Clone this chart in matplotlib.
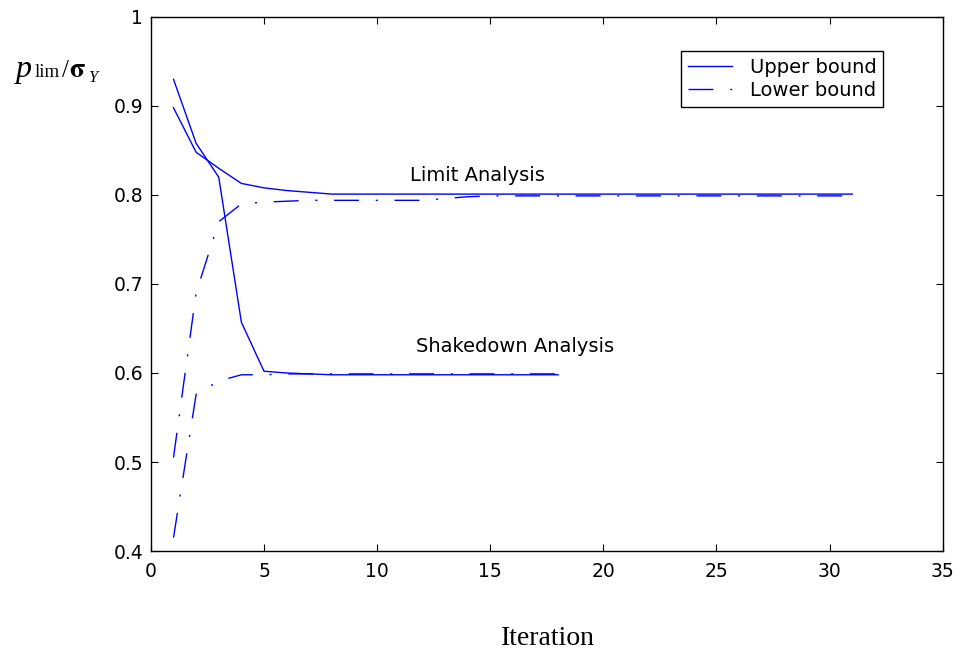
import matplotlib
matplotlib.use('Agg')
import matplotlib.pyplot as plt

plt.rcParams['font.family'] = ['DejaVu Sans']
plt.rcParams['mathtext.fontset'] = 'stix'

# limit analysis
lim_it = list(range(1, 32))
lim_upper = [0.898, 0.848, 0.830, 0.813, 0.808, 0.805, 0.803, 0.801] + [0.801] * 23
lim_lower = [0.505, 0.690, 0.770, 0.790, 0.792, 0.793, 0.794, 0.794, 0.794, 0.794,
             0.794, 0.794, 0.796, 0.798, 0.799] + [0.799] * 16

# shakedown analysis
shk_it = list(range(1, 19))
shk_upper = [0.930, 0.858, 0.820, 0.657, 0.602, 0.600, 0.599] + [0.598] * 11
shk_lower = [0.415, 0.576, 0.591, 0.598, 0.598, 0.599] + [0.599] * 12

dashdot = (0, (18, 12, 1.5, 12))

fig = plt.figure(figsize=(9.61, 6.58), dpi=100)
ax = fig.add_axes([0.157, 0.1626, 0.824, 0.8116])

ax.plot(lim_it, lim_upper, '-', color='blue', lw=1, label='Upper bound')
ax.plot(lim_it, lim_lower, linestyle=dashdot, color='blue', lw=1, label='Lower bound')
ax.plot(shk_it, shk_upper, '-', color='blue', lw=1)
ax.plot(shk_it, shk_lower, linestyle=dashdot, color='blue', lw=1)

ax.text(14.45, 0.8155, 'Limit Analysis', ha='center', va='baseline', fontsize=14)
ax.text(16.1, 0.6232, 'Shakedown Analysis', ha='center', va='baseline', fontsize=14)

ax.set_xlim(0, 35)
ax.set_ylim(0.4, 1)
ax.set_xticks(range(0, 36, 5))
ax.set_yticks([0.4, 0.5, 0.6, 0.7, 0.8, 0.9, 1])
ax.set_yticklabels(['0.4', '0.5', '0.6', '0.7', '0.8', '0.9', '1'])
ax.tick_params(direction='in', top=True, right=True, labelsize=13.5, length=5)
ax.tick_params(axis='x', pad=8)
ax.tick_params(axis='y', pad=5.5)
for s in ax.spines.values():
    s.set_linewidth(1)

leg = ax.legend(loc='upper right', bbox_to_anchor=(0.925, 0.936), borderaxespad=0,
                fontsize=14, fancybox=False, edgecolor='black', framealpha=1,
                handlelength=2.3, handletextpad=0.9, borderpad=0.35,
                labelspacing=0.2)
leg.get_frame().set_linewidth(1)

# y label pieces: p lim / sigma_Y
fig.text(16 / 961, 1 - 77 / 658, 'p', fontsize=23, family='Liberation Serif',
         style='italic', va='baseline')
fig.text(35 / 961, 1 - 77 / 658, 'lim', fontsize=13.5, family='Liberation Serif', va='baseline')
fig.text(62 / 961, 1 - 77 / 658, '/', fontsize=18, family='Liberation Serif', va='baseline')
fig.text(69 / 961, 1 - 77 / 658, r'$\mathbf{\sigma}$', fontsize=20, va='baseline')
fig.text(88 / 961, 1 - 82 / 658, 'Y', fontsize=12, family='Liberation Serif',
         style='italic', va='baseline')

fig.text(548 / 961, 1 - 645 / 658, 'Iteration', fontsize=20, family='Liberation Serif',
         ha='center', va='baseline')

fig.savefig('out.png', dpi=100)
